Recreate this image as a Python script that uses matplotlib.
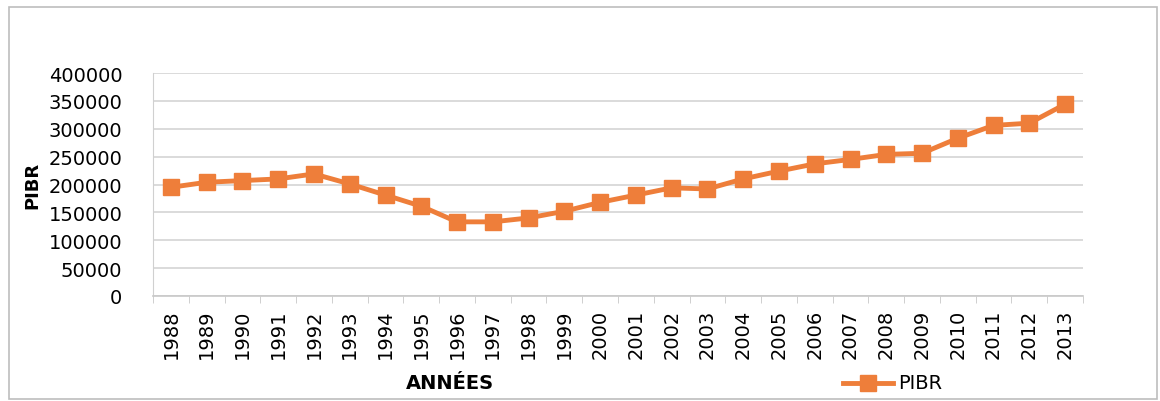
import matplotlib.pyplot as plt
from matplotlib.lines import Line2D
from matplotlib.patches import Rectangle

years = [str(y) for y in range(1988, 2014)]
pibr = [195000, 204000, 207000, 210000, 219000, 201000, 181000, 161000, 133000, 133000,
        140000, 152000, 168000, 181000, 194000, 192000, 210000, 224000, 237000, 245000,
        254000, 256000, 283000, 306000, 310000, 344000]
y_ticks = [0, 50000, 100000, 150000, 200000, 250000, 300000, 350000, 400000]

orange = '#EE7E3A'
W, H = 1160, 402

fig = plt.figure(figsize=(W / 100, H / 100), dpi=100)
ax = fig.add_axes([153 / W, 1 - 297 / H, (1083 - 153) / W, (297 - 74) / H])

x = list(range(len(years)))
ax.plot(x, pibr, color=orange, linewidth=3.5, marker='s', markersize=11,
        markerfacecolor=orange, markeredgecolor=orange, zorder=3)

ax.set_xlim(-0.5, len(years) - 0.5)
ax.set_ylim(0, 400000)
ax.set_yticks(y_ticks)
ax.set_yticklabels([str(v) for v in y_ticks], fontsize=14)
ax.set_xticks(x)
ax.set_xticklabels(years, rotation=90, fontsize=14)
ax.grid(axis='y', color='#d4d4d4', linewidth=1.2)
ax.set_axisbelow(True)

for s in ['top', 'right']:
    ax.spines[s].set_visible(False)
ax.spines['left'].set_color('#d0d0d0')
ax.spines['bottom'].set_color('#c8c8c8')
ax.spines['bottom'].set_linewidth(1.2)
ax.tick_params(axis='y', length=0, pad=22)
ax.set_xticks([i - 0.5 for i in range(len(years) + 1)], minor=True)
ax.tick_params(axis='x', which='major', length=0, pad=9)
ax.tick_params(axis='x', which='minor', length=5, color='#c8c8c8')

fig.text(32 / W, 1 - 185 / H, 'PIBR', rotation=90, fontsize=13, fontweight='bold',
         ha='center', va='center')
fig.text(450 / W, 1 - 384 / H, 'ANNÉES', fontsize=14, fontweight='bold',
         ha='center', va='center')

# legend entry
fig.add_artist(Line2D([843 / W, 868 / W, 893 / W], [1 - 384 / H] * 3, color=orange,
                      linewidth=3.5, marker='s', markersize=11, markevery=[1],
                      transform=fig.transFigure))
fig.text(898 / W, 1 - 384 / H, 'PIBR', fontsize=14, ha='left', va='center')

# outer frame
fig.add_artist(Rectangle((9 / W, 2 / H), 1148 / W, 392 / H, fill=False,
                         edgecolor='#bdbdbd', linewidth=1.2, transform=fig.transFigure))

fig.savefig('out.png', dpi=100)
